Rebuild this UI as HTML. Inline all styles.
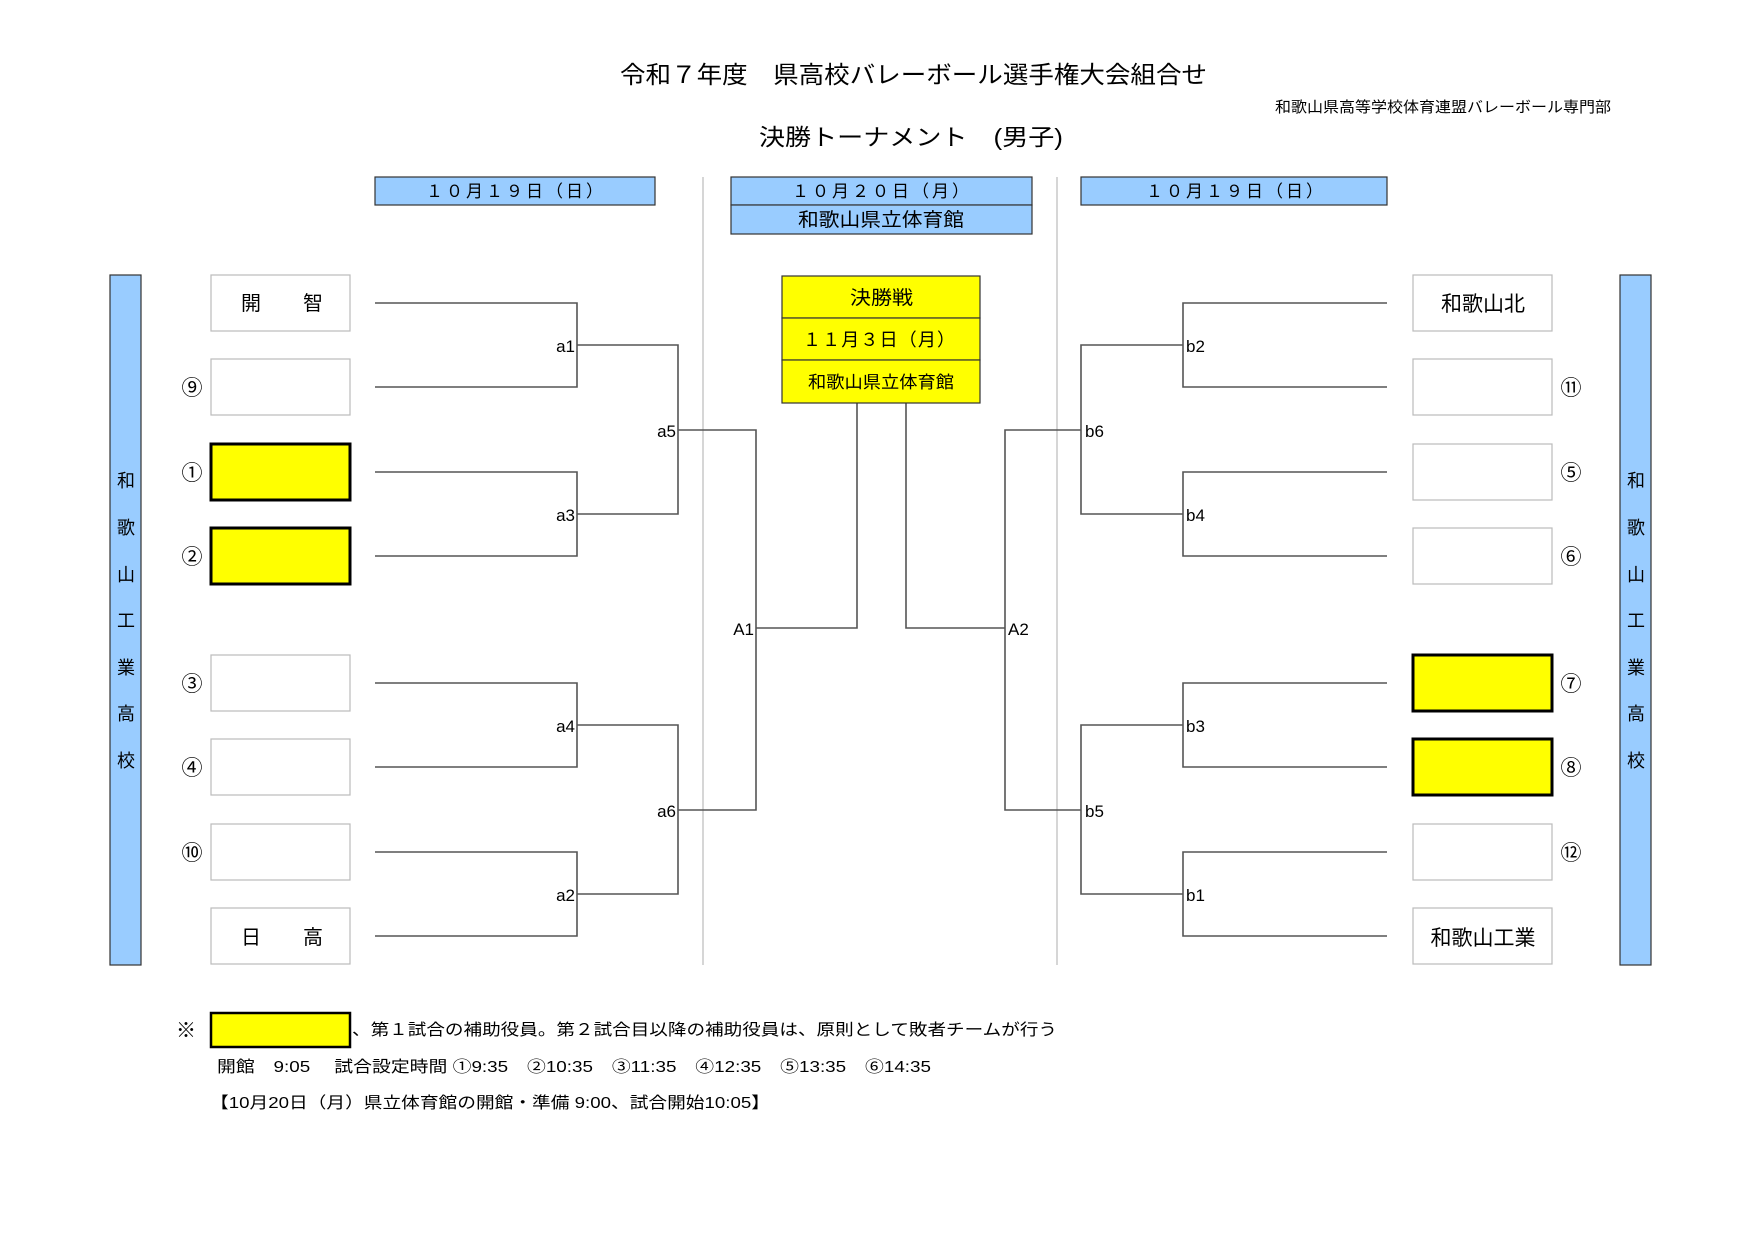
<!DOCTYPE html>
<html><head><meta charset="utf-8"><style>
html,body{margin:0;padding:0;background:#fff;}
svg{display:block;}
text{font-family:"Liberation Sans","Noto Sans CJK JP",sans-serif;fill:#000;}
</style></head><body>
<svg width="1755" height="1241" viewBox="0 0 1755 1241" xmlns="http://www.w3.org/2000/svg">
<rect width="1755" height="1241" fill="#fff"/>
<text x="620" y="83" font-size="24" textLength="587" lengthAdjust="spacingAndGlyphs">令和７年度　県高校バレーボール選手権大会組合せ</text>
<text x="1275" y="112" font-size="15" textLength="336" lengthAdjust="spacingAndGlyphs">和歌山県高等学校体育連盟バレーボール専門部</text>
<text x="759" y="145" font-size="23" textLength="304" lengthAdjust="spacingAndGlyphs">決勝トーナメント　(男子)</text>

<g stroke="#333" stroke-width="1.2" fill="#99ccff">
<rect x="375" y="177" width="280" height="28"/>
<rect x="731" y="177" width="301" height="28"/>
<rect x="731" y="205" width="301" height="29"/>
<rect x="1081" y="177" width="306" height="28"/>
</g>
<g font-size="17">
<text x="426" y="197" textLength="177" lengthAdjust="spacing">１０月１９日（日）</text>
<text x="792" y="197" textLength="177" lengthAdjust="spacing">１０月２０日（月）</text>
<text x="798" y="226" font-size="19" textLength="166" lengthAdjust="spacingAndGlyphs">和歌山県立体育館</text>
<text x="1146" y="197" textLength="177" lengthAdjust="spacing">１０月１９日（日）</text>
</g>

<g stroke="#bbb" stroke-width="1.2">
<line x1="703" y1="177" x2="703" y2="965"/>
<line x1="1057" y1="177" x2="1057" y2="965"/>
</g>

<g stroke="#333" stroke-width="1.2" fill="#99ccff">
<rect x="110" y="275" width="31" height="690"/>
<rect x="1620" y="275" width="31" height="690"/>
</g>
<g font-size="18" text-anchor="middle">
<text x="126" y="487">和</text><text x="126" y="534">歌</text><text x="126" y="581">山</text><text x="126" y="627">工</text><text x="126" y="674">業</text><text x="126" y="720">高</text><text x="126" y="767">校</text>
<text x="1636" y="487">和</text><text x="1636" y="534">歌</text><text x="1636" y="581">山</text><text x="1636" y="627">工</text><text x="1636" y="674">業</text><text x="1636" y="720">高</text><text x="1636" y="767">校</text>
</g>

<g fill="#fff" stroke="#bbb" stroke-width="1.2">
<rect x="211" y="275" width="139" height="56"/>
<rect x="211" y="359" width="139" height="56"/>
<rect x="211" y="655" width="139" height="56"/>
<rect x="211" y="739" width="139" height="56"/>
<rect x="211" y="824" width="139" height="56"/>
<rect x="211" y="908" width="139" height="56"/>
<rect x="1413" y="275" width="139" height="56"/>
<rect x="1413" y="359" width="139" height="56"/>
<rect x="1413" y="444" width="139" height="56"/>
<rect x="1413" y="528" width="139" height="56"/>
<rect x="1413" y="824" width="139" height="56"/>
<rect x="1413" y="908" width="139" height="56"/>
</g>
<g fill="#ffff00" stroke="#000" stroke-width="3">
<rect x="211" y="444" width="139" height="56"/>
<rect x="211" y="528" width="139" height="56"/>
<rect x="1413" y="655" width="139" height="56"/>
<rect x="1413" y="739" width="139" height="56"/>
</g>
<g font-size="20" text-anchor="middle">
<text x="251" y="310">開</text><text x="313" y="310">智</text>
<text x="251" y="944">日</text><text x="313" y="944">高</text>
<text x="1483" y="311" font-size="21">和歌山北</text>
<text x="1483" y="945" font-size="21">和歌山工業</text>
</g>
<g font-size="21" text-anchor="middle">
<text x="192" y="395">⑨</text><text x="192" y="480">①</text><text x="192" y="564">②</text>
<text x="192" y="691">③</text><text x="192" y="775">④</text><text x="192" y="860">⑩</text>
<text x="1571" y="395">⑪</text><text x="1571" y="480">⑤</text><text x="1571" y="564">⑥</text>
<text x="1571" y="691">⑦</text><text x="1571" y="775">⑧</text><text x="1571" y="860">⑫</text>
</g>

<g stroke="#555" stroke-width="1.6" fill="none">
<polyline points="375,303 577,303 577,387 375,387"/>
<polyline points="375,472 577,472 577,556 375,556"/>
<polyline points="375,683 577,683 577,767 375,767"/>
<polyline points="375,852 577,852 577,936 375,936"/>
<polyline points="577,345 678,345 678,514 577,514"/>
<polyline points="577,725 678,725 678,894 577,894"/>
<polyline points="678,430 756,430 756,810 678,810"/>
<polyline points="756,628 857,628 857,403"/>
<polyline points="1387,303 1183,303 1183,387 1387,387"/>
<polyline points="1387,472 1183,472 1183,556 1387,556"/>
<polyline points="1387,683 1183,683 1183,767 1387,767"/>
<polyline points="1387,852 1183,852 1183,936 1387,936"/>
<polyline points="1183,345 1081,345 1081,514 1183,514"/>
<polyline points="1183,725 1081,725 1081,894 1183,894"/>
<polyline points="1081,430 1005,430 1005,810 1081,810"/>
<polyline points="1005,628 906,628 906,403"/>
</g>
<g font-size="17">
<g text-anchor="end">
<text x="575" y="352">a1</text><text x="575" y="521">a3</text><text x="575" y="732">a4</text><text x="575" y="901">a2</text>
<text x="676" y="437">a5</text><text x="676" y="817">a6</text><text x="754" y="635">A1</text>
</g>
<text x="1186" y="352">b2</text><text x="1186" y="521">b4</text><text x="1186" y="732">b3</text><text x="1186" y="901">b1</text>
<text x="1085" y="437">b6</text><text x="1085" y="817">b5</text><text x="1008" y="635">A2</text>
</g>

<g fill="#ffff00" stroke="#333" stroke-width="1.2">
<rect x="782" y="276" width="198" height="42"/>
<rect x="782" y="318" width="198" height="42"/>
<rect x="782" y="360" width="198" height="43"/>
</g>
<g>
<text x="850" y="304" font-size="19" textLength="63" lengthAdjust="spacingAndGlyphs">決勝戦</text>
<text x="803" y="346" font-size="18" textLength="152" lengthAdjust="spacing">１１月３日（月）</text>
<text x="808" y="388" font-size="17" textLength="146" lengthAdjust="spacingAndGlyphs">和歌山県立体育館</text>
</g>

<text x="186" y="1037" font-size="20" text-anchor="middle">※</text>
<rect x="211" y="1013" width="139" height="34" fill="#ffff00" stroke="#000" stroke-width="2.5"/>
<text x="352" y="1035" font-size="16" textLength="705" lengthAdjust="spacingAndGlyphs">、第１試合の補助役員。第２試合目以降の補助役員は、原則として敗者チームが行う</text>
<text x="217" y="1072" font-size="16" textLength="714" lengthAdjust="spacingAndGlyphs">開館　9:05　 試合設定時間 ①9:35　②10:35　③11:35　④12:35　⑤13:35　⑥14:35</text>
<text x="210" y="1108" font-size="16" textLength="560" lengthAdjust="spacingAndGlyphs">【10月20日（月）県立体育館の開館・準備 9:00、試合開始10:05】</text>
</svg>
</body></html>
